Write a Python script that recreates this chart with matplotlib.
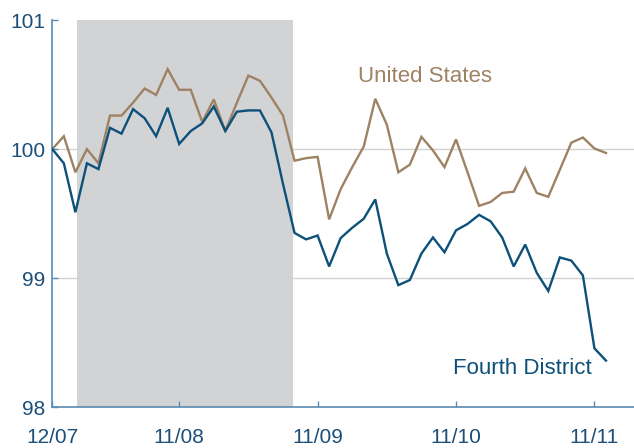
import matplotlib
matplotlib.use("Agg")
import matplotlib.pyplot as plt
import numpy as np

plt.rcParams['font.family'] = ['Liberation Sans', 'DejaVu Sans']

# Monthly index, 12/07 .. 12/11 (49 months)
months = np.arange(49)
us = [100.00, 100.10, 99.82, 100.00, 99.89, 100.26, 100.26, 100.36, 100.47, 100.42,
      100.62, 100.46, 100.46, 100.21, 100.385, 100.14, 100.36, 100.57, 100.53, 100.40,
      100.26, 99.91, 99.93, 99.94, 99.455, 99.69, 99.86, 100.02, 100.39, 100.19,
      99.82, 99.88, 100.095, 99.99, 99.86, 100.075, 99.82, 99.56, 99.59, 99.66,
      99.67, 99.85, 99.66, 99.63, 99.84, 100.05, 100.09, 100.005, 99.97]
fd = [100.00, 99.89, 99.51, 99.89, 99.845, 100.165, 100.12, 100.31, 100.24, 100.10,
      100.32, 100.04, 100.14, 100.20, 100.33, 100.14, 100.29, 100.30, 100.30, 100.13,
      99.73, 99.35, 99.30, 99.33, 99.09, 99.31, 99.39, 99.46, 99.61, 99.19,
      98.945, 98.985, 99.19, 99.315, 99.20, 99.37, 99.42, 99.49, 99.44, 99.315,
      99.09, 99.26, 99.04, 98.90, 99.16, 99.135, 99.02, 98.455, 98.36]

xtick_pos = [0, 11, 23, 35, 47]
xtick_labels = ['12/07', '11/08', '11/09', '11/10', '11/11']
ytick_pos = [98, 99, 100, 101]
ytick_labels = ['98', '99', '100', '101']
shade_span = (2.14, 20.87)

US_COLOR = '#9e8264'
FD_COLOR = '#0d5079'
TXT_COLOR = '#1b4f7a'
SPINE_COLOR = '#5a8bb2'

fig = plt.figure(figsize=(6.34, 4.48), dpi=100)
ax = fig.add_axes([0.0825, 0.0915, 0.9175, 0.8635])

ax.axvspan(shade_span[0], shade_span[1], color='#d1d3d4', lw=0, zorder=0)
for yv in [99, 100]:
    ax.axhline(yv, color='#d2d2d2', lw=1.0, zorder=1)

ax.plot(months, us, color=US_COLOR, lw=1.7, zorder=3, solid_joinstyle='miter')
ax.plot(months, fd, color=FD_COLOR, lw=1.7, zorder=3, solid_joinstyle='miter')

ax.set_xlim(0, 50.43)
ax.set_ylim(98, 101)

ax.set_xticks(xtick_pos)
ax.set_xticklabels(xtick_labels)
ax.set_yticks(ytick_pos)
ax.set_yticklabels(ytick_labels)

ax.tick_params(axis='x', direction='in', length=4, width=1, color=SPINE_COLOR,
               labelsize=15, labelcolor=TXT_COLOR, pad=15)
ax.tick_params(axis='y', direction='in', length=4, width=1, color=SPINE_COLOR,
               labelsize=15, labelcolor=TXT_COLOR, pad=5)

for s in ['top', 'right']:
    ax.spines[s].set_visible(False)
for s in ['left', 'bottom']:
    ax.spines[s].set_color(SPINE_COLOR)
    ax.spines[s].set_linewidth(1.2)

ax.text(26.5, 100.566, 'United States', color=US_COLOR, fontsize=16,
        ha='left', va='center')
ax.text(34.73, 98.295, 'Fourth District', color=FD_COLOR, fontsize=16,
        ha='left', va='center')

fig.savefig('out.png', dpi=100)
